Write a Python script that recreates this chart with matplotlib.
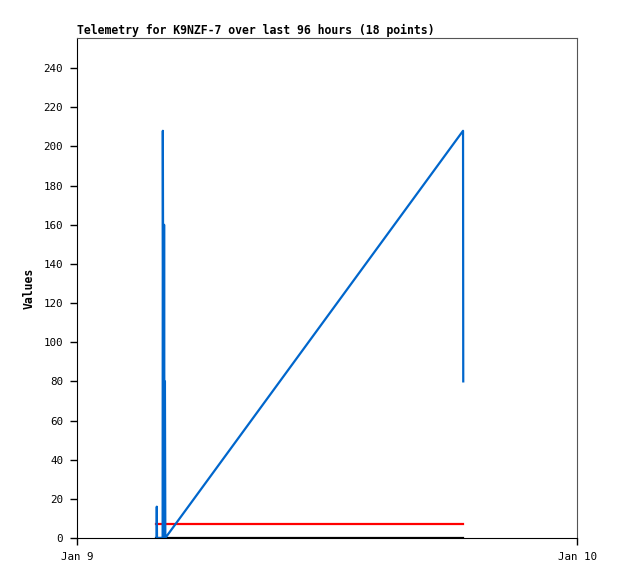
import matplotlib
matplotlib.use("Agg")
import matplotlib.pyplot as plt
import matplotlib.dates as mdates
from datetime import datetime, timedelta

# Telemetry samples, hours after Jan 9 00:00
start = datetime(2024, 1, 9)
hours = [3.82, 3.83, 3.84, 4.11, 4.12, 4.16, 4.18, 4.20, 4.22, 4.24, 18.53, 18.54]
blue_vals = [0, 16, 0, 0, 208, 0, 160, 0, 80, 0, 208, 80]
red_hours = [3.78, 18.54]
red_vals = [7, 7]
black_hours = [3.78, 18.54]
black_vals = [0, 0]

title = "Telemetry for K9NZF-7 over last 96 hours (18 points)"
yticks = list(range(0, 241, 20))


def to_dt(hs):
    return [start + timedelta(hours=h) for h in hs]


plt.rcParams["font.family"] = ["DejaVu Sans Mono"]

fig = plt.figure(figsize=(6.18, 5.79), dpi=100)
ax = fig.add_axes([77 / 618, 41 / 579, 500 / 618, 500 / 579])

ax.plot(to_dt(black_hours), black_vals, color="black", lw=1.6)
ax.plot(to_dt(red_hours), red_vals, color="#ff0000", lw=1.6)
ax.plot(to_dt(hours), blue_vals, color="#0066cc", lw=1.6)

ax.set_xlim(start, start + timedelta(days=1))
ax.set_ylim(0, 255.4)
ax.set_xticks([start, start + timedelta(days=1)])
ax.xaxis.set_major_formatter(mdates.DateFormatter("%b %-d"))
ax.set_yticks(yticks)

ax.tick_params(labelsize=7.8, length=5, width=1, direction="out", pad=5)
for side in ["top", "right"]:
    ax.spines[side].set_color("#555555")
for side in ["left", "bottom"]:
    ax.spines[side].set_color("black")

ax.set_ylabel("Values", fontsize=8.3, fontweight="bold", labelpad=6)
ax.set_title(title, loc="left", fontsize=8.3, fontweight="bold", pad=3)

fig.savefig("out.png", dpi=100)
